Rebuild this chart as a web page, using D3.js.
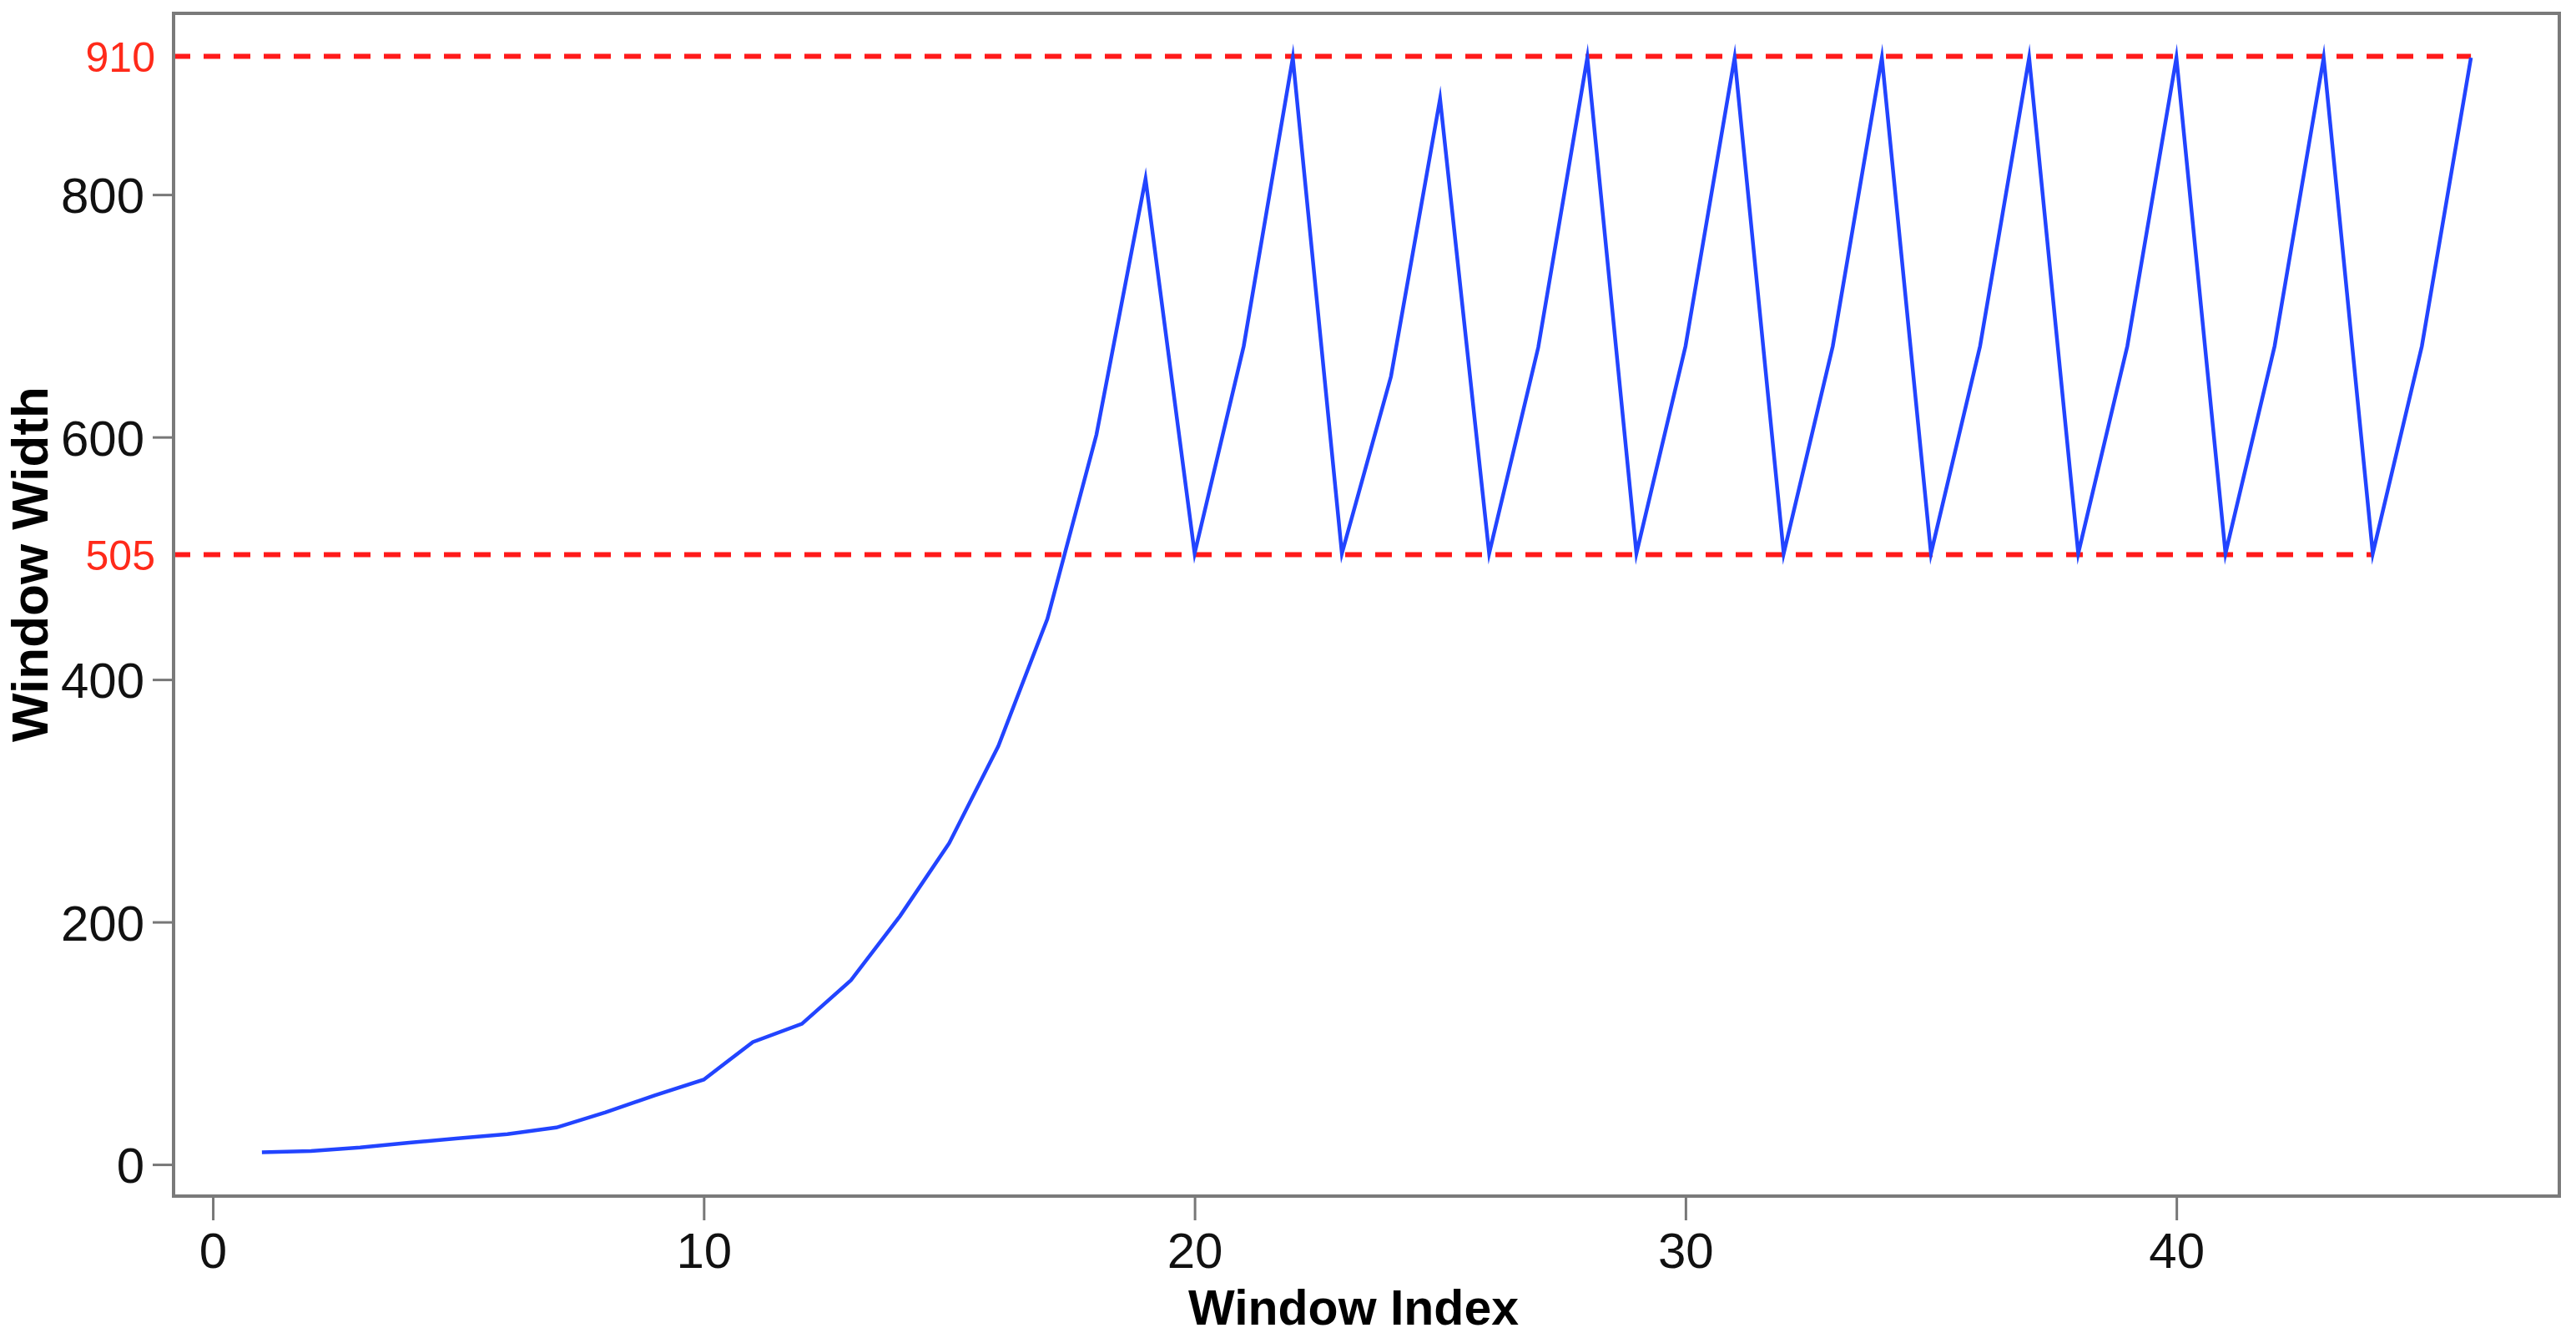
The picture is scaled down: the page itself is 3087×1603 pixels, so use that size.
<!DOCTYPE html>
<html>
<head>
<meta charset="utf-8">
<script src="https://cdn.jsdelivr.net/npm/d3@7"></script>
<style>
    html, body { margin: 0; padding: 0; background: #fff; }
    svg { display: block; font-family: "Liberation Sans", Arial, Helvetica, sans-serif; }
</style>
</head>
<body>
<svg id="chart"></svg>
<script>
// data
var windowIndex = d3.range(1, 47);
var windowWidth = [10, 11, 14, 18, 21.5, 25, 30.5, 43, 57, 70,
    101, 116, 152, 205, 265, 345, 450, 602, 813, 504,
    675, 913, 504, 650, 879, 504, 674, 913, 504, 675,
    913, 504, 675, 913, 504, 675, 913, 504, 675, 913,
    504, 675, 913, 504, 675, 913];
var xTicks = [0, 10, 20, 30, 40];
var yTicks = [0, 200, 400, 600, 800];
var limitLabels = ["910", "505"];
var limitValues = [914, 503];
var limitEnds = [46, 44];

var W = 3087, H = 1603;
var svg = d3.select("#chart").attr("width", W).attr("height", H);
var margin = { top: 16, right: 20, bottom: 170, left: 208 },
    width = W - margin.left - margin.right,
    height = H - margin.top - margin.bottom;

// R style 4% padding around the data
var x = d3.scaleLinear().domain([-0.8, 47.8]).range([margin.left, margin.left + width]);
var y = d3.scaleLinear().domain([-26.1, 949.5]).range([margin.top + height, margin.top]);

svg.append("clipPath").attr("id", "plotclip")
    .append("rect")
    .attr("x", margin.left).attr("y", margin.top)
    .attr("width", width).attr("height", height);

var plot = svg.append("g").attr("clip-path", "url(#plotclip)");

// red dashed limits
plot.selectAll(".limit")
    .data(limitValues)
    .enter().append("line")
    .attr("class", "limit")
    .attr("x1", x(x.domain()[0]))
    .attr("x2", function(d, i) { return x(limitEnds[i]); })
    .attr("y1", function(d) { return y(d); })
    .attr("y2", function(d) { return y(d); })
    .attr("stroke", "#ff1a1a")
    .attr("stroke-width", 6)
    .attr("stroke-dasharray", "20,16");

var line = d3.line()
    .x(function(d, i) { return x(windowIndex[i]); })
    .y(function(d) { return y(d); });

plot.append("path")
    .datum(windowWidth)
    .attr("d", line)
    .attr("fill", "none")
    .attr("stroke", "#2244ff")
    .attr("stroke-width", 4.5)
    .attr("stroke-linejoin", "miter")
    .attr("stroke-miterlimit", 10);

// axes
var xAxis = svg.append("g")
    .attr("transform", "translate(0," + (margin.top + height) + ")")
    .call(d3.axisBottom(x).tickValues(xTicks).tickSize(29).tickPadding(14).tickFormat(d3.format("d")));
xAxis.select(".domain").remove();
xAxis.selectAll("line").attr("stroke", "#777").attr("stroke-width", 3);
xAxis.selectAll("text")
    .attr("fill", "#111")
    .style("font-size", "60px");

var yAxis = svg.append("g")
    .attr("transform", "translate(" + margin.left + ",0)")
    .call(d3.axisLeft(y).tickValues(yTicks).tickSize(25).tickPadding(10).tickFormat(d3.format("d")));
yAxis.select(".domain").remove();
yAxis.selectAll("line").attr("stroke", "#777").attr("stroke-width", 3);
yAxis.selectAll("text")
    .attr("fill", "#111")
    .attr("dy", "0.36em")
    .style("font-size", "60px");

// red labels for the limits
svg.selectAll(".limitLabel")
    .data(limitValues)
    .enter().append("text")
    .attr("class", "limitLabel")
    .attr("x", margin.left - 22)
    .attr("y", function(d) { return y(d); })
    .attr("dy", "0.36em")
    .attr("text-anchor", "end")
    .attr("fill", "#ff2a1a")
    .style("font-size", "50px")
    .text(function(d, i) { return limitLabels[i]; });

// frame
svg.append("rect")
    .attr("x", margin.left).attr("y", margin.top)
    .attr("width", width).attr("height", height)
    .attr("fill", "none")
    .attr("stroke", "#7a7a7a")
    .attr("stroke-width", 4);

// titles
svg.append("text")
    .attr("x", 1622)
    .attr("y", 1587)
    .attr("text-anchor", "middle")
    .attr("fill", "#000")
    .style("font-size", "59px")
    .style("font-weight", "bold")
    .text("Window Index");

svg.append("text")
    .attr("transform", "translate(57,676) rotate(-90)")
    .attr("text-anchor", "middle")
    .attr("fill", "#000")
    .style("font-size", "62px")
    .style("font-weight", "bold")
    .text("Window Width");
</script>
</body>
</html>
